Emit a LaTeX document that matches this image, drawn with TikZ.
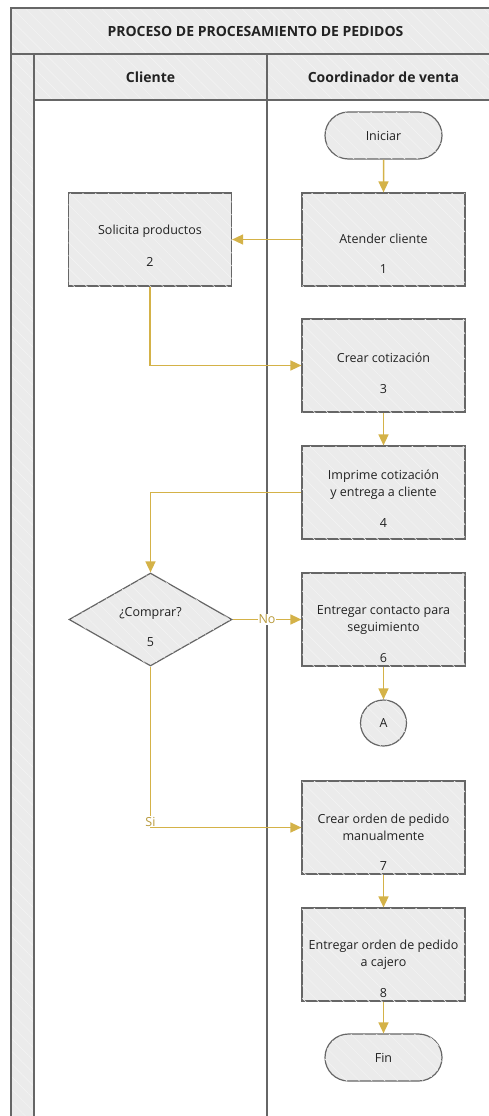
\documentclass[tikz,border=0pt]{standalone}
\usepackage{fontspec}
\setmainfont{Open Sans}
\usetikzlibrary{arrows.meta,shapes.geometric,shapes.misc,patterns.meta}
\definecolor{edgegray}{HTML}{666666}
\definecolor{boxfill}{HTML}{EBEBEB}
\definecolor{flow}{HTML}{D4B248}
\definecolor{flowtext}{HTML}{B89A3C}
\definecolor{ink}{HTML}{222222}
\tikzset{
  hatch/.style={postaction={pattern={Lines[angle=-45,distance=9pt,line width=0.6pt]},pattern color=white!40!boxfill}},
  band/.style={fill=boxfill,hatch},
  poolline/.style={draw=edgegray,line width=1.1pt},
  procbox/.style={draw=edgegray,line width=1.2pt,fill=boxfill,hatch,rectangle,
    minimum width=163pt,minimum height=93pt,inner sep=0pt},
  decision/.style={draw=edgegray,line width=1.2pt,fill=boxfill,hatch,diamond,
    minimum width=163pt,minimum height=93pt,inner sep=0pt},
  terminal/.style={draw=edgegray,line width=1.2pt,fill=boxfill,hatch,rounded rectangle,
    minimum width=117pt,minimum height=47pt,inner sep=0pt,text=ink},
  connector/.style={draw=edgegray,line width=1.2pt,fill=boxfill,hatch,circle,
    minimum size=46pt,inner sep=0pt,text=ink},
  flowline/.style={draw=flow,line width=1.5pt,-{Triangle[length=11pt,width=10pt]}},
  txt/.style={text=ink,align=center,inner sep=0pt},
  head/.style={text=ink,font=\fontsize{14}{16}\selectfont\bfseries},
  flowlabel/.style={text=flowtext,fill=white,inner sep=1pt},
}
\begin{document}
\begin{tikzpicture}[x=1pt,y=-1pt,font=\fontsize{12.5}{17}\selectfont]
\useasboundingbox (0,0) rectangle (489,1116);
\clip (0,0) rectangle (489,1116);
% swimlane pool
\path[band] (11,8) rectangle (500,54);
\path[band] (34,54) rectangle (500,100);
\path[band] (11,54) rectangle (34,1130);
\draw[poolline] (11,8) rectangle (500,1130);
\draw[poolline] (11,54) -- (500,54);
\draw[poolline] (34,100) -- (500,100);
\draw[poolline] (34,54) -- (34,1130);
\draw[poolline] (267,54) -- (267,1130);
\node[head] (title) at (255.5,31) {PROCESO DE PROCESAMIENTO DE PEDIDOS};
\node[head] (lane1) at (150.5,77) {Cliente};
\node[head] (lane2) at (383.5,77) {Coordinador de venta};

% flow shapes
\node[terminal] (ini) at (383.5,135.5) {Iniciar};
\node[procbox] (b1) at (383.5,239.5) {};
\node[procbox] (b2) at (150,239.5) {};
\node[procbox] (b3) at (383.5,365.5) {};
\node[procbox] (b4) at (383.5,492.5) {};
\node[decision] (d5) at (150.5,619.5) {};
\node[procbox] (b6) at (383.5,619.5) {};
\node[connector] (ca) at (383.5,723) {A};
\node[procbox] (b7) at (383.5,827.5) {};
\node[procbox] (b8) at (383.5,954.5) {};
\node[terminal] (fin) at (383.5,1057.5) {Fin};

% texts inside shapes
\node[txt] (t1) at (383.5,239) {Atender cliente};
\node[txt] (n1) at (383.5,269) {1};
\node[txt] (t2) at (150,231) {Solicita productos};
\node[txt] (n2) at (150,262) {2};
\node[txt] (t3) at (383.5,358) {Crear cotización};
\node[txt] (n3) at (383.5,389) {3};
\node[txt] (t4) at (383.5,484.5) {Imprime cotización\\y entrega a cliente};
\node[txt] (n4) at (383.5,523) {4};
\node[txt] (t5) at (150.5,613) {¿Comprar?};
\node[txt] (n5) at (150.5,642) {5};
\node[txt] (t6) at (383.5,620) {Entregar contacto para\\seguimiento};
\node[txt] (n6) at (383.5,658) {6};
\node[txt] (t7) at (383.5,827) {Crear orden de pedido\\manualmente};
\node[txt] (n7) at (383.5,866) {7};
\node[txt] (t8) at (383.5,954.5) {Entregar orden de pedido\\a cajero};
\node[txt] (n8) at (383.5,993) {8};

% connectors
\draw[flowline] (ini) -- (b1);
\draw[flowline] (b1) -- (b2);
\draw[flowline] (b2.south) |- (b3.west);
\draw[flowline] (b3) -- (b4);
\draw[flowline] (b4.west) -| (d5.north);
\draw[flowline] (d5.east) -- node[flowlabel] (no) {No} (b6.west);
\draw[flowline] (b6.south) -- (ca.north);
\draw[flowline] (d5.south) |- node[flowlabel,pos=0.5,yshift=6pt] (si) {Si} (b7.west);
\draw[flowline] (b7) -- (b8);
\draw[flowline] (b8) -- (fin);
\end{tikzpicture}
\end{document}
